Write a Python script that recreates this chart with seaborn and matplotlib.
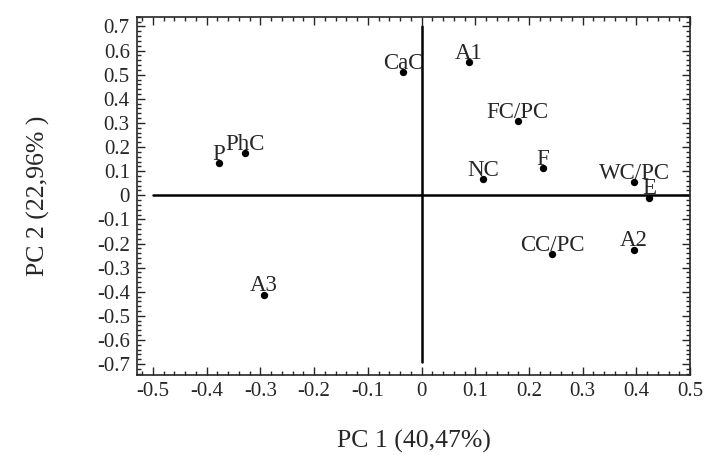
import matplotlib
matplotlib.use("Agg")
import matplotlib.pyplot as plt
import seaborn as sns
import pandas as pd
from matplotlib.ticker import MultipleLocator

# Puntuaciones de las muestras en PC1 / PC2
muestras = ['CaC', 'P', 'PhC', 'A1', 'FC/PC', 'F', 'NC', 'WC/PC', 'E', 'A3', 'CC/PC', 'A2']
pc1 = [-0.034, -0.377, -0.328, 0.088, 0.179, 0.226, 0.114, 0.396, 0.424, -0.294, 0.243, 0.395]
pc2 = [0.51, 0.132, 0.174, 0.551, 0.307, 0.112, 0.067, 0.055, -0.010, -0.413, -0.244, -0.226]

df = pd.DataFrame({'muestra': muestras, 'pc1': pc1, 'pc2': pc2})

sns.set_style('ticks')
plt.rcParams['font.family'] = ['Liberation Serif', 'DejaVu Serif']

fig = plt.figure(figsize=(7.05, 4.55), dpi=100)
ax = fig.add_axes([0.194, 0.176, 0.785, 0.787])

# ejes de referencia en cero
ax.plot([-0.5, 0.5], [0, 0], color='black', lw=1.8, zorder=1)
ax.plot([0, 0], [-0.69, 0.70], color='black', lw=1.8, zorder=1)

sns.scatterplot(data=df, x='pc1', y='pc2', color='black', s=28, edgecolor='black',
                linewidth=0, ax=ax, zorder=3)

for _, fila in df.iterrows():
    ax.annotate(fila['muestra'], (fila['pc1'], fila['pc2']), xytext=(0, 2.5),
                textcoords='offset points', ha='center', va='baseline', fontsize=16.5)

ax.set_xlim(-0.53, 0.5)
ax.set_ylim(-0.745, 0.74)
ax.xaxis.set_major_locator(MultipleLocator(0.1))
ax.xaxis.set_minor_locator(MultipleLocator(0.02))
ax.yaxis.set_major_locator(MultipleLocator(0.1))
ax.yaxis.set_minor_locator(MultipleLocator(0.02))

fmt = lambda v, p: '0' if abs(v) < 1e-9 else f'{v:.1f}'
ax.xaxis.set_major_formatter(fmt)
ax.yaxis.set_major_formatter(fmt)

ax.tick_params(which='both', direction='in', top=True, right=True, labelsize=15, width=1)
ax.tick_params(which='major', length=6, pad=5)
ax.tick_params(which='minor', length=3)
for sp in ax.spines.values():
    sp.set_linewidth(1.2)

ax.set_xlabel('PC 1 (40,47%)', fontsize=18.5, labelpad=21)
ax.set_ylabel('PC 2 (22,96% )', fontsize=18.5, labelpad=34)

fig.savefig('out.png', dpi=100)
